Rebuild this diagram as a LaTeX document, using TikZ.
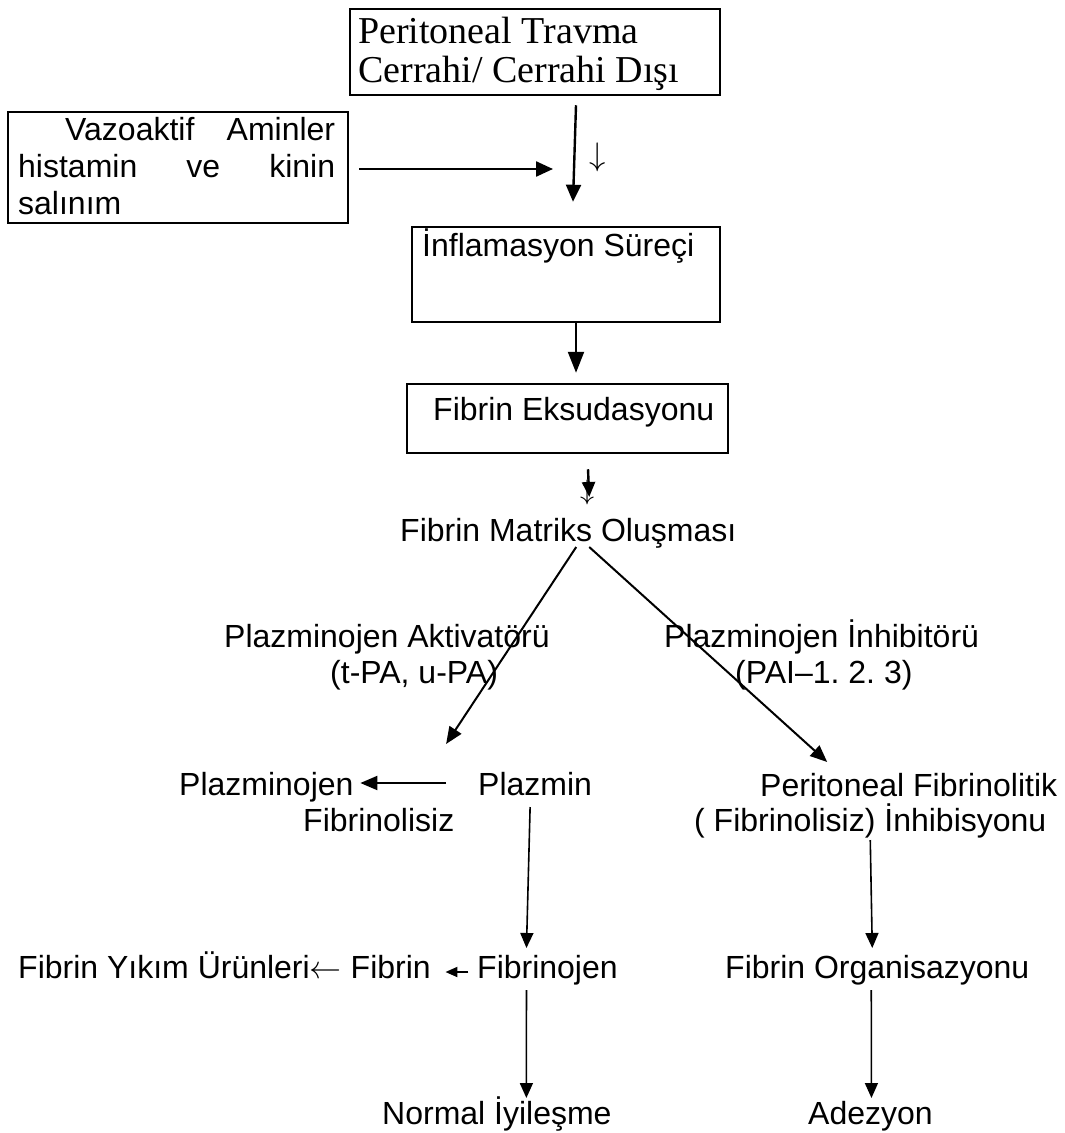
\documentclass[tikz,border=0pt]{standalone}
\usepackage{fontspec}
\usepackage{graphicx}
\setmainfont{Liberation Sans}
\newfontfamily\timesfont{Liberation Serif}
\usetikzlibrary{arrows.meta,calc}
\frenchspacing
\begin{document}
\begin{tikzpicture}[x=1pt,y=-1pt,
  boxs/.style={draw,line width=2.5pt,inner sep=0pt,rectangle},
  txt/.style={inner sep=0pt,anchor=base west,font=\fontsize{32}{37}\selectfont\frenchspacing},
  ttxt/.style={inner sep=0pt,anchor=base west,font=\timesfont\fontsize{38}{39}\selectfont},
  bigarr/.style={line width=2.4pt,-{Triangle[length=17pt,width=15pt]}},
  diagarr/.style={line width=2pt,-{Triangle[length=17pt,width=14pt]}},
  thinarr/.style={line width=1.6pt,-{Triangle[length=15pt,width=13pt]}},
  smallarr/.style={line width=2pt,-{Triangle[length=12pt,width=10pt]}},
]
\fill[white] (0,0) rectangle (1065,1133);
\useasboundingbox (0,0) rectangle (1065,1133);

% boxes
\node[boxs,minimum width=370pt,minimum height=86pt] (top) at (535,52) {};
\node[boxs,minimum width=340pt,minimum height=111pt] (vaz) at (178,167.5) {};
\node[boxs,minimum width=308pt,minimum height=95pt] (infl) at (566,274.5) {};
\node[boxs,minimum width=321pt,minimum height=69pt] (eks) at (567.5,418.5) {};

% box texts
\node[ttxt] (top1) at (358,43) {Peritoneal Travma};
\node[ttxt] (top2) at (358,82) {Cerrahi/ Cerrahi Dışı};
\node[txt] (vaz1) at (65,140) {\hbox to 270pt{Vazoaktif\hfill Aminler}};
\node[txt] (vaz2) at (18,177) {\hbox to 317pt{histamin\hfill ve\hfill kinin}};
\node[txt] (vaz3) at (18,214) {salınım};
\node[txt] (infltxt) at (422,256) {İnflamasyon Süreçi};
\node[txt] (ekstxt) at (433,420) {Fibrin Eksudasyonu};

% free texts
\node[txt] (matrix) at (400,541) {Fibrin Matriks Oluşması};
\node[txt] (akt1) at (224,647) {Plazminojen Aktivatörü};
\node[txt] (akt2) at (330,683) {(t-PA, u-PA)};
\node[txt] (inh1) at (664,647) {Plazminojen İnhibitörü};
\node[txt] (inh2) at (735,683) {(PAI–1. 2. 3)};
\node[txt] (plazminojen) at (179,795) {Plazminojen};
\node[txt] (plazmin) at (478,795) {Plazmin};
\node[txt] (fibrinolisiz) at (303,831) {Fibrinolisiz};
\node[txt] (perit1) at (760,796) {Peritoneal Fibrinolitik};
\node[txt] (perit2) at (694,831) {( Fibrinolisiz) İnhibisyonu};
\node[txt] (fyu) at (18,978) {Fibrin Yıkım Ürünleri\resizebox{32pt}{!}{$\leftarrow$} Fibrin};
\node[txt] (fibrinojen) at (477,978) {Fibrinojen};
\node[txt] (org) at (725,978) {Fibrin Organisazyonu};
\node[txt] (normal) at (382,1124) {Normal İyileşme};
\node[txt] (adez) at (808,1124) {Adezyon};

% glyph arrows
\node[inner sep=0pt] (dglyph1) at (598,157) {\resizebox*{!}{29pt}{$\downarrow$}};
\node[inner sep=0pt] (dglyph2) at (588,492) {\resizebox*{!}{25pt}{$\downarrow$}};

% connectors
\coordinate (join) at (553,169);
\draw[bigarr] ($(vaz.east)+(10,1.5)$) -- (join);
\draw[bigarr] ($(top.south)+(41,9)$) -- ($(infl.north)+(7,-24)$);
\draw[bigarr,-{Triangle[length=21pt,width=16pt]}] ($(infl.south)+(10,-2)$) -- ($(eks.north)+(8.5,-10)$);
\draw[bigarr,-{Triangle[length=15pt,width=13pt]}] ($(eks.south)+(20.5,15)$) -- ($(matrix.base)+(21,-44)$);

\coordinate (tipA) at ($(plazmin.base)+(-89,-51)$);
\coordinate (tipB) at ($(perit1.base)+(-81.5,-34)$);
\draw[diagarr] ($(matrix.base)+(8,6)$) -- (tipA);
\draw[diagarr] ($(matrix.base)+(21,6)$) -- (tipB);

\draw[diagarr] ($(plazmin.base)+(-89,-12)$) -- ($(plazminojen.base)+(94,-12)$);
\draw[thinarr] ($(plazmin.base)+(-5,12)$) -- ($(fibrinojen.base)+(-21,-30)$);
\draw[smallarr] ($(fibrinojen.base)+(-79,-6)$) -- ($(fibrinojen.base)+(-102,-6)$);
\draw[thinarr] ($(fibrinojen.base)+(-21,12)$) -- ($(normal.base)+(29.5,-26)$);
\draw[thinarr] ($(perit2.base)+(0,9)$) -- ($(org.base)+(-5,-30)$);
\draw[thinarr] ($(org.base)+(-6,12)$) -- ($(adez.base)+(1,-26)$);
\end{tikzpicture}
\end{document}
